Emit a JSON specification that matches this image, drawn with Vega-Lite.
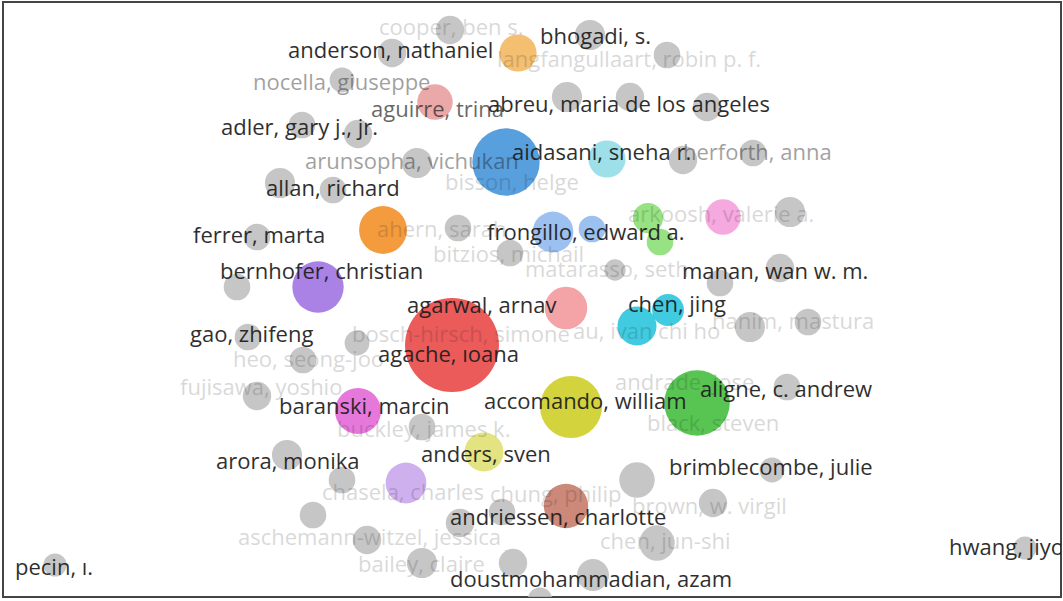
{
  "$schema": "https://vega.github.io/schema/vega-lite/v6.json",
  "autosize": "none",
  "width": 1058,
  "height": 595,
  "padding": {"left": 3, "top": 2, "right": 2, "bottom": 4},
  "background": "white",
  "config": {"view": {"stroke": "#444444", "strokeWidth": 2}},
  "datasets": {
    "nodes": [
      {"x": 452, "y": 345, "w": 53, "cluster": "red"},
      {"x": 506, "y": 162, "w": 38, "cluster": "blue"},
      {"x": 697, "y": 403, "w": 37, "cluster": "green"},
      {"x": 571, "y": 407, "w": 35, "cluster": "yellow"},
      {"x": 318, "y": 287, "w": 29, "cluster": "purple"},
      {"x": 383, "y": 230, "w": 27, "cluster": "orange"},
      {"x": 637, "y": 326, "w": 22, "cluster": "cyan"},
      {"x": 668, "y": 310, "w": 18, "cluster": "cyan"},
      {"x": 566, "y": 308, "w": 24, "cluster": "salmon"},
      {"x": 553, "y": 232, "w": 23, "cluster": "lightblue"},
      {"x": 592, "y": 229, "w": 15, "cluster": "lightblue"},
      {"x": 648, "y": 218, "w": 17, "cluster": "lightgreen"},
      {"x": 660, "y": 242, "w": 15, "cluster": "lightgreen"},
      {"x": 723, "y": 217, "w": 20, "cluster": "pink"},
      {"x": 607, "y": 159, "w": 21, "cluster": "lightcyan"},
      {"x": 518, "y": 53, "w": 21, "cluster": "lightorange"},
      {"x": 435, "y": 102, "w": 20, "cluster": "rose"},
      {"x": 358, "y": 411, "w": 26, "cluster": "magenta"},
      {"x": 484, "y": 452, "w": 22, "cluster": "lightyellow"},
      {"x": 406, "y": 483, "w": 23, "cluster": "lavender"},
      {"x": 566, "y": 506, "w": 25, "cluster": "brown"},
      {"x": 450, "y": 30, "w": 16, "cluster": "none"},
      {"x": 392, "y": 53, "w": 16, "cluster": "none"},
      {"x": 342, "y": 80, "w": 14, "cluster": "none"},
      {"x": 302, "y": 125, "w": 15, "cluster": "none"},
      {"x": 358, "y": 134, "w": 16, "cluster": "none"},
      {"x": 417, "y": 163, "w": 17, "cluster": "none"},
      {"x": 280, "y": 183, "w": 17, "cluster": "none"},
      {"x": 333, "y": 190, "w": 15, "cluster": "none"},
      {"x": 590, "y": 35, "w": 17, "cluster": "none"},
      {"x": 667, "y": 55, "w": 15, "cluster": "none"},
      {"x": 567, "y": 97, "w": 17, "cluster": "none"},
      {"x": 630, "y": 97, "w": 16, "cluster": "none"},
      {"x": 707, "y": 107, "w": 16, "cluster": "none"},
      {"x": 683, "y": 160, "w": 16, "cluster": "none"},
      {"x": 753, "y": 153, "w": 15, "cluster": "none"},
      {"x": 790, "y": 212, "w": 17, "cluster": "none"},
      {"x": 458, "y": 228, "w": 15, "cluster": "none"},
      {"x": 510, "y": 253, "w": 15, "cluster": "none"},
      {"x": 615, "y": 270, "w": 12, "cluster": "none"},
      {"x": 257, "y": 237, "w": 15, "cluster": "none"},
      {"x": 237, "y": 287, "w": 15, "cluster": "none"},
      {"x": 248, "y": 337, "w": 15, "cluster": "none"},
      {"x": 357, "y": 343, "w": 14, "cluster": "none"},
      {"x": 303, "y": 360, "w": 15, "cluster": "none"},
      {"x": 257, "y": 396, "w": 16, "cluster": "none"},
      {"x": 720, "y": 283, "w": 15, "cluster": "none"},
      {"x": 780, "y": 268, "w": 16, "cluster": "none"},
      {"x": 750, "y": 327, "w": 17, "cluster": "none"},
      {"x": 808, "y": 322, "w": 15, "cluster": "none"},
      {"x": 787, "y": 387, "w": 15, "cluster": "none"},
      {"x": 422, "y": 427, "w": 15, "cluster": "none"},
      {"x": 287, "y": 455, "w": 17, "cluster": "none"},
      {"x": 342, "y": 480, "w": 15, "cluster": "none"},
      {"x": 313, "y": 515, "w": 15, "cluster": "none"},
      {"x": 367, "y": 540, "w": 16, "cluster": "none"},
      {"x": 422, "y": 563, "w": 17, "cluster": "none"},
      {"x": 460, "y": 523, "w": 16, "cluster": "none"},
      {"x": 502, "y": 512, "w": 15, "cluster": "none"},
      {"x": 513, "y": 563, "w": 16, "cluster": "none"},
      {"x": 637, "y": 480, "w": 20, "cluster": "none"},
      {"x": 713, "y": 503, "w": 16, "cluster": "none"},
      {"x": 772, "y": 470, "w": 14, "cluster": "none"},
      {"x": 657, "y": 543, "w": 20, "cluster": "none"},
      {"x": 593, "y": 575, "w": 18, "cluster": "none"},
      {"x": 540, "y": 600, "w": 14, "cluster": "none"},
      {"x": 55, "y": 565, "w": 13, "cluster": "none"},
      {"x": 1025, "y": 548, "w": 13, "cluster": "none"}
    ],
    "labels": [
      {"x": 288, "y": 51, "name": "anderson, nathaniel", "emph": 3},
      {"x": 540, "y": 37, "name": "bhogadi, s.", "emph": 3},
      {"x": 488, "y": 105, "name": "abreu, maria de los angeles", "emph": 3},
      {"x": 371, "y": 110, "name": "aguirre, trina", "emph": 2},
      {"x": 221, "y": 128, "name": "adler, gary j., jr.", "emph": 3},
      {"x": 512, "y": 153, "name": "aidasani, sneha r.", "emph": 3},
      {"x": 266, "y": 189, "name": "allan, richard", "emph": 3},
      {"x": 193, "y": 236, "name": "ferrer, marta", "emph": 3},
      {"x": 487, "y": 233, "name": "frongillo, edward a.", "emph": 3},
      {"x": 220, "y": 272, "name": "bernhofer, christian", "emph": 3},
      {"x": 682, "y": 272, "name": "manan, wan w. m.", "emph": 3},
      {"x": 407, "y": 306, "name": "agarwal, arnav", "emph": 3},
      {"x": 628, "y": 305, "name": "chen, jing", "emph": 3},
      {"x": 190, "y": 335, "name": "gao, zhifeng", "emph": 3},
      {"x": 378, "y": 355, "name": "agache, ıoana", "emph": 3},
      {"x": 700, "y": 390, "name": "aligne, c. andrew", "emph": 3},
      {"x": 484, "y": 402, "name": "accomando, william", "emph": 3},
      {"x": 279, "y": 407, "name": "baranski, marcin", "emph": 3},
      {"x": 216, "y": 462, "name": "arora, monika", "emph": 3},
      {"x": 421, "y": 455, "name": "anders, sven", "emph": 3},
      {"x": 669, "y": 468, "name": "brimblecombe, julie", "emph": 3},
      {"x": 450, "y": 518, "name": "andriessen, charlotte", "emph": 3},
      {"x": 15, "y": 568, "name": "pecin, ı.", "emph": 3},
      {"x": 949, "y": 548, "name": "hwang, jiyoung", "emph": 3},
      {"x": 450, "y": 580, "name": "doustmohammadian, azam", "emph": 3},
      {"x": 683, "y": 153, "name": "herforth, anna", "emph": 1},
      {"x": 305, "y": 162, "name": "arunsopha, vichukan", "emph": 1},
      {"x": 379, "y": 28, "name": "cooper, ben s.", "emph": 0},
      {"x": 497, "y": 60, "name": "langfangullaart, robin p. f.", "emph": 0},
      {"x": 253, "y": 83, "name": "nocella, giuseppe", "emph": 1},
      {"x": 445, "y": 183, "name": "bisson, helge", "emph": 0},
      {"x": 628, "y": 215, "name": "arkoosh, valerie a.", "emph": 0},
      {"x": 377, "y": 230, "name": "ahern, sarah", "emph": 0},
      {"x": 433, "y": 255, "name": "bitzios, michail", "emph": 0},
      {"x": 525, "y": 270, "name": "matarasso, seth", "emph": 0},
      {"x": 573, "y": 332, "name": "au, ivan chi ho", "emph": 0},
      {"x": 352, "y": 335, "name": "bosch-hirsch, simone", "emph": 0},
      {"x": 615, "y": 383, "name": "andrade, jose", "emph": 0},
      {"x": 712, "y": 322, "name": "hanim, mastura", "emph": 0},
      {"x": 647, "y": 424, "name": "black, steven", "emph": 0},
      {"x": 233, "y": 360, "name": "heo, seong-joo", "emph": 0},
      {"x": 180, "y": 388, "name": "fujisawa, yoshio", "emph": 0},
      {"x": 337, "y": 430, "name": "buckley, james k.", "emph": 0},
      {"x": 322, "y": 493, "name": "chasela, charles", "emph": 0},
      {"x": 490, "y": 495, "name": "chung, philip", "emph": 0},
      {"x": 632, "y": 507, "name": "brown, w. virgil", "emph": 0},
      {"x": 238, "y": 538, "name": "aschemann-witzel, jessica", "emph": 0},
      {"x": 600, "y": 542, "name": "chen, jun-shi", "emph": 0},
      {"x": 358, "y": 565, "name": "bailey, claire", "emph": 0}
    ]
  },
  "layer": [
    {
      "data": {"name": "nodes"},
      "mark": {"type": "circle", "opacity": 0.86, "clip": true},
      "encoding": {
        "x": {"field": "x", "type": "quantitative", "scale": {"domain": [3, 1061], "nice": false, "zero": false}, "axis": null},
        "y": {"field": "y", "type": "quantitative", "scale": {"domain": [2, 597], "nice": false, "zero": false, "reverse": true}, "axis": null},
        "size": {"field": "w", "type": "quantitative", "scale": {"type": "pow", "exponent": 2, "domain": [0, 60], "range": [0, 11310]}, "legend": null},
        "color": {
          "field": "cluster", "type": "nominal", "legend": null,
          "scale": {
            "domain": ["red", "blue", "green", "yellow", "purple", "orange", "cyan", "salmon", "lightblue", "lightgreen", "pink", "lightcyan", "lightorange", "rose", "magenta", "lightyellow", "lavender", "brown", "none"],
            "range": ["#e8403f", "#3d8fd8", "#3dbb35", "#cccc1e", "#9c6ce0", "#f18b1d", "#22c2dc", "#f29497", "#8cb6ec", "#86de70", "#f39bd8", "#8ddbe6", "#f3b45a", "#e89a9a", "#e262d6", "#dede6e", "#c6a3ec", "#c47562", "#bdbdbd"]
          }
        }
      }
    },
    {
      "data": {"name": "labels"},
      "mark": {"type": "text", "align": "left", "baseline": "middle", "font": "Open Sans", "fontSize": 22, "color": "#1e1e1e", "clip": true},
      "encoding": {
        "x": {"field": "x", "type": "quantitative"},
        "y": {"field": "y", "type": "quantitative"},
        "text": {"field": "name"},
        "opacity": {"field": "emph", "type": "quantitative", "legend": null, "scale": {"domain": [0, 3], "range": [0.17, 0.93]}}
      }
    }
  ]
}
